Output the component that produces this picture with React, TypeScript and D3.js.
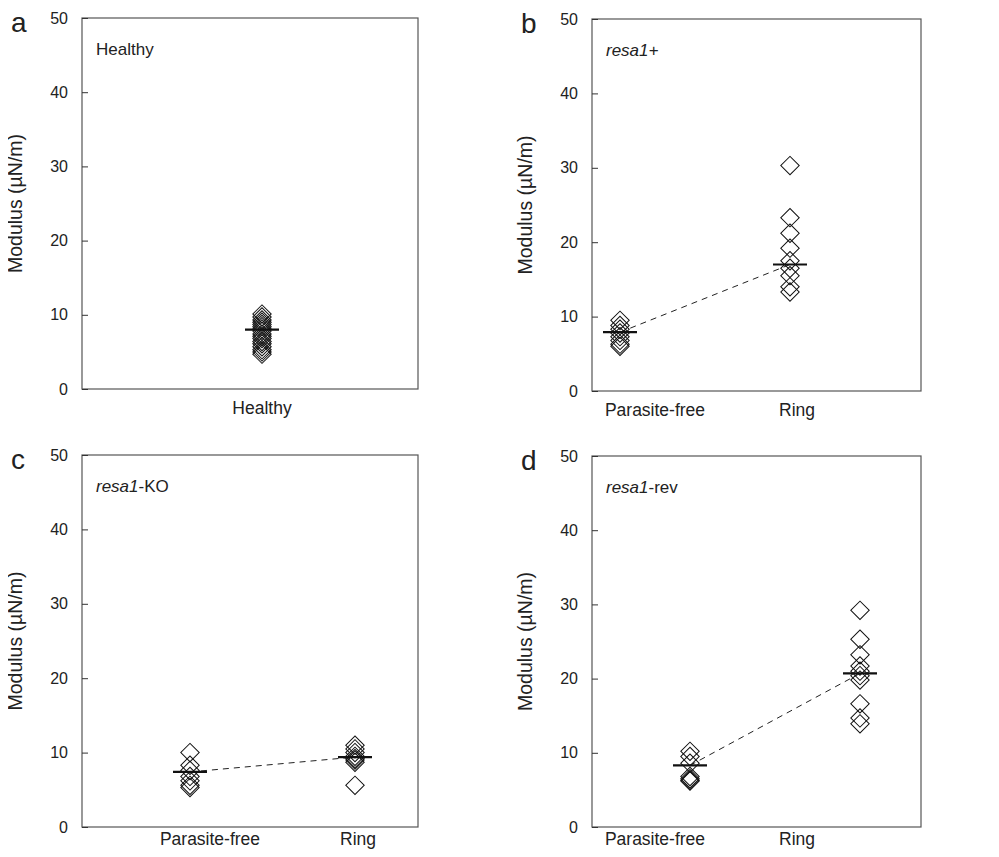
import React, { useRef, useEffect } from 'react';
import * as d3 from 'd3';

// values (Modulus, µN/m)
const healthy = [10.1, 9.7, 9.3, 9.0, 8.7, 8.4, 8.1, 7.8, 7.4, 7.1, 6.8, 6.4, 6.1, 5.7, 5.3, 5.0, 4.7];
const resaPlusFree = [9.5, 8.8, 8.3, 7.8, 7.3, 6.8, 6.3, 6.0];
const resaPlusRing = [30.3, 23.3, 21.2, 19.2, 17.5, 16.5, 15.5, 14.0, 13.3];
const resaKoFree = [10.0, 8.3, 7.6, 6.8, 6.2, 5.6, 5.3];
const resaKoRing = [11.0, 10.5, 10.0, 9.5, 9.2, 9.0, 8.7, 5.6];
const resaRevFree = [10.2, 9.5, 8.6, 6.8, 6.5, 6.3, 6.2];
const resaRevRing = [29.2, 25.3, 23.2, 21.7, 21.0, 20.4, 19.8, 16.6, 14.7, 13.9];

const means = {
  a: [8.0],
  b: [7.9, 17.0],
  c: [7.4, 9.4],
  d: [8.3, 20.7],
};

const yTicks = [0, 10, 20, 30, 40, 50];
const twoGroups = ['Parasite-free', 'Ring'];

const FONT = 'Liberation Sans, Arial, sans-serif';

function Panel({ g, cfg }) {
  const { left, right, top, bottom, letter, cats, series, mean, title, xRange, labelRange, labelGap } = cfg;
  const y = d3.scaleLinear().domain([0, 50]).range([bottom, top]);
  const x = d3.scalePoint().domain(cats).range(xRange);
  // category labels sit at their own spots under the axis
  const xl = d3.scalePoint().domain(cats).range(labelRange);

  g.append('rect')
    .attr('x', left).attr('y', top)
    .attr('width', right - left).attr('height', bottom - top)
    .attr('fill', 'none').attr('stroke', '#555').attr('stroke-width', 1.2);

  const yAxis = g.append('g').attr('transform', `translate(${left},0)`)
    .call(d3.axisLeft(y).tickValues(yTicks).tickSize(-6).tickPadding(14));
  yAxis.select('.domain').remove();
  yAxis.selectAll('line').attr('stroke', '#333');
  yAxis.selectAll('text').attr('font-family', FONT).attr('font-size', 16).attr('fill', '#222');

  g.append('text')
    .attr('transform', `translate(${left - 60},${(top + bottom) / 2}) rotate(-90)`)
    .attr('text-anchor', 'middle')
    .attr('font-family', FONT).attr('font-size', 19.5).attr('fill', '#222')
    .text('Modulus (µN/m)');

  g.append('text')
    .attr('x', left - 71).attr('y', top + 14)
    .attr('font-family', FONT).attr('font-size', 28).attr('fill', '#222')
    .text(letter);

  const t = g.append('text')
    .attr('x', left + 14).attr('y', top + 37)
    .attr('font-family', FONT).attr('font-size', 17).attr('fill', '#222');
  title.forEach(([s, it]) => t.append('tspan').attr('font-style', it ? 'italic' : 'normal').text(s));

  g.selectAll('.xl').data(cats).enter().append('text')
    .attr('x', d => xl(d)).attr('y', bottom + labelGap)
    .attr('text-anchor', 'middle')
    .attr('font-family', FONT).attr('font-size', 17.5).attr('fill', '#222')
    .text(d => d);

  if (mean.length > 1) {
    g.append('path')
      .attr('d', d3.line()(cats.map((c, i) => [x(c), y(mean[i])])))
      .attr('fill', 'none').attr('stroke', '#222').attr('stroke-width', 1)
      .attr('stroke-dasharray', '6,5');
  }

  const sym = d3.symbol().type(d3.symbolSquare).size(170);
  cats.forEach((c, i) => {
    g.selectAll(null).data(series[i]).enter().append('path')
      .attr('d', sym())
      .attr('transform', d => `translate(${x(c)},${y(d)}) rotate(45)`)
      .attr('fill', 'none').attr('stroke', '#111').attr('stroke-width', 1);
    g.append('line')
      .attr('x1', x(c) - 17).attr('x2', x(c) + 17)
      .attr('y1', y(mean[i])).attr('y2', y(mean[i]))
      .attr('stroke', '#111').attr('stroke-width', 2.2);
  });
}

export default function App() {
  const svgRef = useRef(null);

  useEffect(() => {
    const svg = d3.select(svgRef.current);
    svg.selectAll('*').remove();
    svg.append('rect').attr('width', 999).attr('height', 857).attr('fill', '#fff');

    const panels = [
      { letter: 'a', left: 82, right: 418, top: 18, bottom: 389, cats: ['Healthy'], series: [healthy], mean: means.a, title: [['Healthy', false]], xRange: [262, 262], labelRange: [262, 262], labelGap: 25 },
      { letter: 'b', left: 592, right: 921, top: 19, bottom: 391, cats: twoGroups, series: [resaPlusFree, resaPlusRing], mean: means.b, title: [['resa1+', true]], xRange: [620, 790], labelRange: [655, 797], labelGap: 25 },
      { letter: 'c', left: 82, right: 418, top: 455, bottom: 827, cats: twoGroups, series: [resaKoFree, resaKoRing], mean: means.c, title: [['resa1', true], ['-KO', false]], xRange: [190, 355], labelRange: [210, 358], labelGap: 18 },
      { letter: 'd', left: 592, right: 921, top: 456, bottom: 827, cats: twoGroups, series: [resaRevFree, resaRevRing], mean: means.d, title: [['resa1', true], ['-rev', false]], xRange: [690, 860], labelRange: [655, 797], labelGap: 18 },
    ];
    panels.forEach(p => Panel({ g: svg.append('g'), cfg: p }));
  }, []);

  return (
    <div style={{ margin: -8 }}>
      <svg ref={svgRef} width={999} height={857} style={{ display: 'block' }} />
    </div>
  );
}
